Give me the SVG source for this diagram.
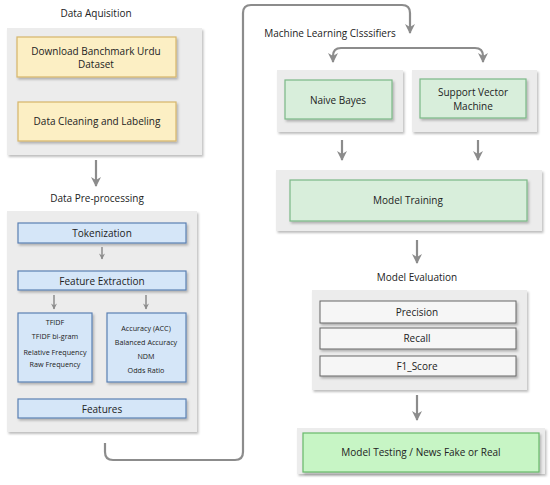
<svg xmlns="http://www.w3.org/2000/svg" width="550" height="485" viewBox="0 0 550 485">
<defs>
<filter id="sh" x="-10%" y="-10%" width="130%" height="140%"><feDropShadow dx="1.5" dy="2" stdDeviation="1.2" flood-color="#000" flood-opacity="0.25"/></filter>
<marker id="ah2" viewBox="0 0 10 10" refX="9" refY="5" markerWidth="11" markerHeight="10" markerUnits="userSpaceOnUse" orient="auto"><path d="M0,0 L10,5 L0,10 L3,5 Z" fill="#8c8c8c"/></marker>
<marker id="ah3" viewBox="0 0 10 10" refX="9" refY="5" markerWidth="7" markerHeight="6" markerUnits="userSpaceOnUse" orient="auto"><path d="M0,0 L10,5 L0,10 L3,5 Z" fill="#8c8c8c"/></marker>
</defs>
<style>
text{font-family:"Open Sans","Liberation Sans",sans-serif;fill:#222;text-anchor:middle;}
.t{font-size:10px;}
.b{font-size:10px;}
.s{font-size:7.2px;}
.panel{fill:#ececec;filter:url(#sh);}
.y{fill:#fcefc4;stroke:#d6b56a;stroke-width:1.2;filter:url(#sh);}
.bl{fill:#d5e6f8;stroke:#5b80b3;stroke-width:1.2;filter:url(#sh);}
.g{fill:#d8eedb;stroke:#7bb886;stroke-width:1.2;filter:url(#sh);}
.gg{fill:#c7f5c5;stroke:#68b96a;stroke-width:1.2;filter:url(#sh);}
.w{fill:#f6f6f6;stroke:#666;stroke-width:1;filter:url(#sh);}
.c{fill:none;stroke:#8c8c8c;stroke-width:2.2;}
.cs{fill:none;stroke:#8c8c8c;stroke-width:1.5;}
</style>
<rect width="550" height="485" fill="#fff"/>

<g id="acq">
<text class="t" x="96" y="17">Data Aquisition</text>
<rect class="panel" x="7" y="28" width="195" height="127"/>
<g id="download"><rect class="y" x="17" y="37" width="159" height="40"/>
<text class="b" x="96" y="55">Download Banchmark Urdu</text><text class="b" x="96" y="68">Dataset</text></g>
<g id="cleaning"><rect class="y" x="18" y="102" width="158" height="39"/>
<text class="b" x="97" y="125">Data Cleaning and Labeling</text></g>
</g>

<g id="pre">
<text class="t" x="97" y="202">Data Pre-processing</text>
<rect class="panel" x="7" y="211" width="190" height="221"/>
<g id="tok"><rect class="bl" x="18" y="223" width="168" height="20"/><text class="b" x="102" y="237">Tokenization</text></g>
<g id="fe"><rect class="bl" x="18" y="271" width="168" height="19"/><text class="b" x="102" y="284.5">Feature Extraction</text></g>
<g id="fl"><rect class="bl" x="18" y="313" width="74" height="69"/>
<text class="s" x="55" y="324.5">TFIDF</text><text class="s" x="55" y="338.5">TFIDF bi-gram</text>
<text class="s" x="55" y="354.5">Relative Frequency</text><text class="s" x="55" y="366.5">Raw Frequency</text></g>
<g id="fr"><rect class="bl" x="107" y="313" width="79" height="69"/>
<text class="s" x="146" y="330.5">Accuracy (ACC)</text><text class="s" x="146" y="344.5">Balanced Accuracy</text>
<text class="s" x="146" y="358.5">NDM</text><text class="s" x="146" y="372.5">Odds Ratio</text></g>
<g id="feat"><rect class="bl" x="18" y="399" width="168" height="19"/><text class="b" x="102" y="412.5">Features</text></g>
</g>

<g id="ml">
<text class="t" x="330" y="37">Machine Learning Clsssifiers</text>
<g id="nb"><rect class="panel" x="277" y="70" width="126" height="62"/>
<rect class="g" x="285" y="80" width="107" height="39"/><text class="b" x="338" y="104">Naive Bayes</text></g>
<g id="svm"><rect class="panel" x="412" y="70" width="125" height="62"/>
<rect class="g" x="420" y="79" width="106" height="39"/><text class="b" x="473" y="96">Support Vector</text><text class="b" x="473" y="110">Machine</text></g>
<g id="train"><rect class="panel" x="276" y="170" width="266" height="61"/>
<rect class="g" x="290" y="180" width="237" height="41"/><text class="b" x="408" y="204">Model Training</text></g>
</g>

<g id="eval">
<text class="t" x="417" y="281">Model Evaluation</text>
<rect class="panel" x="312" y="290" width="215" height="100"/>
<g id="prec"><rect class="w" x="320" y="301" width="196" height="22"/><text class="b" x="417" y="315.5">Precision</text></g>
<g id="rec"><rect class="w" x="320" y="328" width="196" height="21"/><text class="b" x="417" y="342">Recall</text></g>
<g id="f1"><rect class="w" x="320" y="356" width="196" height="20"/><text class="b" x="417" y="369.5">F1_Score</text></g>
</g>

<g id="test">
<rect class="panel" x="297" y="428" width="248" height="46"/>
<rect class="gg" x="303" y="433" width="236" height="39"/>
<text class="b" x="421" y="456">Model Testing / News Fake or Real</text>
</g>

<g id="connectors">
<path class="c" d="M96,160 V186" marker-end="url(#ah2)"/>
<path class="cs" d="M102,247 V259" marker-end="url(#ah3)"/>
<path class="cs" d="M54,295 V309" marker-end="url(#ah3)"/>
<path class="cs" d="M146,295 V309" marker-end="url(#ah3)"/>
<path class="c" d="M105,443 V452 Q105,460 113,460 H235 Q243,460 243,452 V13 Q243,5 251,5 H402 Q410,5 410,13 V33" marker-end="url(#ah2)"/>
<path class="c" d="M408,48 H341 Q333,48 333,56 V62" marker-end="url(#ah2)"/>
<path class="c" d="M408,48 H475 Q483,48 483,56 V62" marker-end="url(#ah2)"/>
<path class="c" d="M342,140 V160" marker-end="url(#ah2)"/>
<path class="c" d="M478,140 V160" marker-end="url(#ah2)"/>
<path class="c" d="M417,240 V263" marker-end="url(#ah2)"/>
<path class="c" d="M417,395 V420" marker-end="url(#ah2)"/>
</g>
</svg>
